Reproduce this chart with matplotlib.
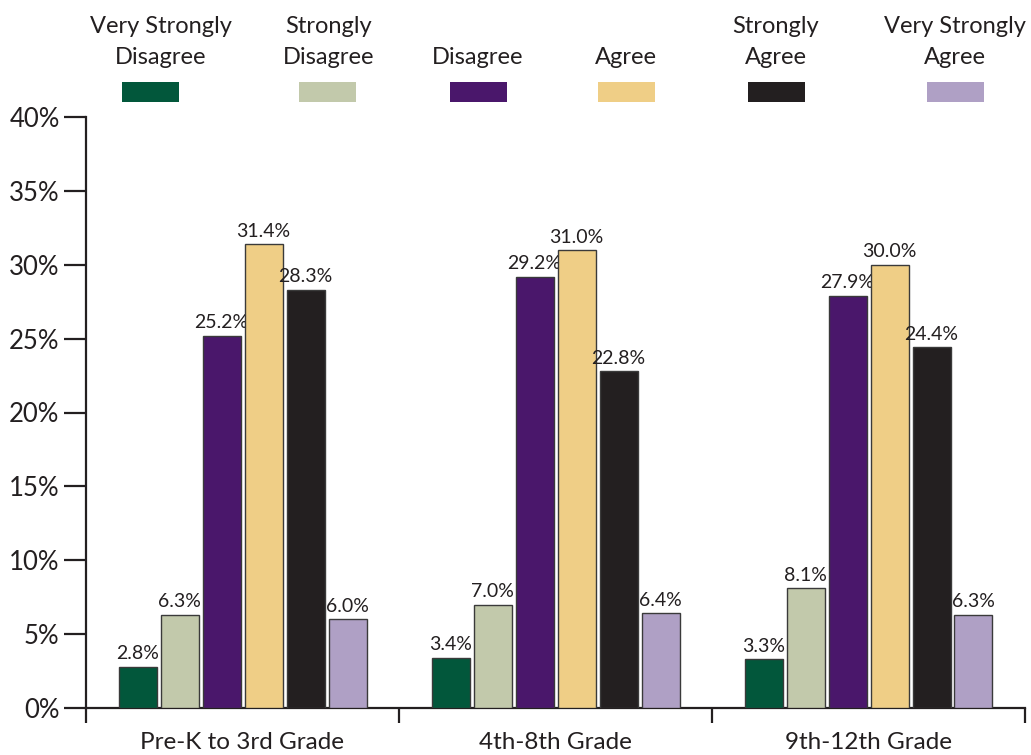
import matplotlib
matplotlib.use("Agg")
import matplotlib.pyplot as plt
from matplotlib.patches import Rectangle
import numpy as np

categories = ["Pre-K to 3rd Grade", "4th-8th Grade", "9th-12th Grade"]
series_names = ["Very Strongly\nDisagree", "Strongly\nDisagree", "Disagree",
                "Agree", "Strongly\nAgree", "Very Strongly\nAgree"]
very_strongly_disagree = [2.8, 3.4, 3.3]
strongly_disagree = [6.3, 7.0, 8.1]
disagree = [25.2, 29.2, 27.9]
agree = [31.4, 31.0, 30.0]
strongly_agree = [28.3, 22.8, 24.4]
very_strongly_agree = [6.0, 6.4, 6.3]
yticks = [0, 5, 10, 15, 20, 25, 30, 35, 40]

series = [very_strongly_disagree, strongly_disagree, disagree, agree,
          strongly_agree, very_strongly_agree]
colors = ["#02573B", "#C2C9AB", "#4A176B", "#EFCE86", "#231F20", "#AFA0C5"]

plt.rcParams['font.family'] = ['Lato', 'DejaVu Sans']

fig = plt.figure(figsize=(10.31, 7.55), dpi=100)
ax = fig.add_axes([86/1031, 47/755, (1025-86)/1031, (708-117)/755])

x = np.arange(len(categories))
pitch = 42/313
width = 38/313
for i, (vals, c) in enumerate(zip(series, colors)):
    pos = x + (i - 2.5) * pitch
    ax.bar(pos, vals, width=width, color=c, edgecolor="#3a3a3a", linewidth=1.0, zorder=3)
    for p, v in zip(pos, vals):
        ax.text(p, v + 0.3, f"{v:.1f}%", ha="center", va="bottom",
                fontsize=14, color="#231F20")

ax.set_xlim(-0.5, 2.5)
ax.set_ylim(0, 40)
ax.set_yticks(yticks)
ax.set_yticklabels([f"{t}%" for t in yticks], fontsize=18.5, color="#231F20")
ax.tick_params(axis="y", direction="out", length=16, width=1.6, color="#231F20", pad=3)

ax.set_xticks(x)
ax.set_xticklabels(categories, fontsize=17.5, color="#231F20")
ax.tick_params(axis="x", which="major", length=0, pad=17)
ax.set_xticks([-0.5, 0.5, 1.5, 2.5], minor=True)
ax.tick_params(axis="x", which="minor", direction="out", length=11, width=1.6, color="#231F20")

for s in ["top", "right"]:
    ax.spines[s].set_visible(False)
for s in ["left", "bottom"]:
    ax.spines[s].set_linewidth(1.6)
    ax.spines[s].set_color("#231F20")

# legend
rect_centers = [150, 328, 478, 626, 776, 955]
text_centers = [161, 329, 478, 626, 776, 955]
for name, c, rx, tx in zip(series_names, colors, rect_centers, text_centers):
    fig.patches.append(Rectangle(((rx - 28.5)/1031, (755-102)/755), 57/1031, 20/755,
                                 transform=fig.transFigure, facecolor=c, edgecolor="none"))
    fig.text(tx/1031, (755-68)/755, name, ha="center", va="bottom",
             fontsize=17, color="#231F20", linespacing=1.6)

fig.savefig("out.png", dpi=100)
